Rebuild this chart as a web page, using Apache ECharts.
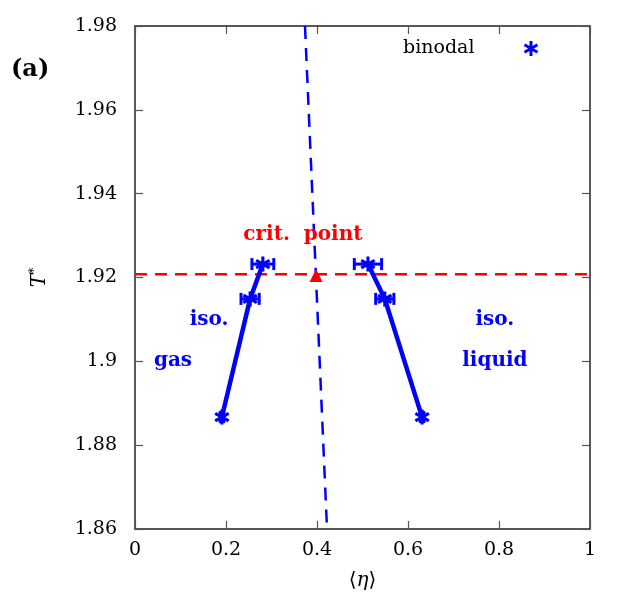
<html>
<head>
    <meta charset='utf-8'/>
    <title>binodal</title>
    <style>
        body { margin: 0; padding: 0; background: #fff; }
        #chart { width: 630px; height: 604px; }
    </style>
</head>
<body>
<div id='chart'></div>
<script src="https://cdn.jsdelivr.net/npm/echarts@6/dist/echarts.min.js"></script>
<script type="text/javascript">
    // binodal points: [eta, T, error in eta]
    var gasBranch = [
        [0.191, 1.8867, 0.004],
        [0.253, 1.9149, 0.020],
        [0.281, 1.9232, 0.024]
    ];
    var liquidBranch = [
        [0.631, 1.8867, 0.004],
        [0.549, 1.9149, 0.020],
        [0.512, 1.9232, 0.030]
    ];
    var critPoint = [[0.398, 1.9205]];
    var critLineT = [[0, 1.9208], [1, 1.9208]];
    var diameterLine = [[0.3736, 1.98], [0.422, 1.86]];
    var notes = [
        [0.369, 1.9301, 'crit.  point', '#ff0000'],
        [0.163, 1.9099, 'iso.', '#0000ff'],
        [0.0835, 1.9001, 'gas', '#0000ff'],
        [0.791, 1.9099, 'iso.', '#0000ff'],
        [0.791, 1.9001, 'liquid', '#0000ff']
    ];

    var FONT = 'DejaVu Serif';
    var BLUE = '#0000ff';
    var RED = '#ff0000';

    // six-armed asterisk as a filled path
    function asteriskPath() {
        var d = '';
        [90, 30, -30].forEach(function (a) {
            var r = a * Math.PI / 180, c = Math.cos(r), s = Math.sin(r);
            var L = 10, W = 2;
            var pts = [[-L, -W], [L, -W], [L, W], [-L, W]].map(function (p) {
                return [(p[0] * c - p[1] * s).toFixed(2), (p[0] * s + p[1] * c).toFixed(2)];
            });
            d += 'M' + pts[0].join(' ') + 'L' + pts[1].join(' ') + 'L' + pts[2].join(' ') + 'L' + pts[3].join(' ') + 'Z';
        });
        return 'path://' + d;
    }
    var STAR = asteriskPath();

    function errorBars(item, api) {
        var x = api.value(0), y = api.value(1), e = api.value(2);
        var p0 = api.coord([x - e, y]);
        var p1 = api.coord([x + e, y]);
        var cap = 6;
        var style = {stroke: BLUE, lineWidth: 3};
        return {
            type: 'group',
            children: [
                {type: 'line', shape: {x1: p0[0], y1: p0[1], x2: p1[0], y2: p1[1]}, style: style},
                {type: 'line', shape: {x1: p0[0], y1: p0[1] - cap, x2: p0[0], y2: p0[1] + cap}, style: style},
                {type: 'line', shape: {x1: p1[0], y1: p1[1] - cap, x2: p1[0], y2: p1[1] + cap}, style: style}
            ]
        };
    }

    var axisCommon = {
        axisLine: {show: true, onZero: false, lineStyle: {color: '#222', width: 1.5}},
        axisTick: {show: true, inside: true, length: 8, lineStyle: {color: '#555', width: 1.2}},
        splitLine: {show: false}
    };

    var chart = echarts.init(document.getElementById('chart'), null, {renderer: 'canvas'});
    var option = {
        backgroundColor: '#fff',
        animation: false,
        title: {
            text: '(a)', left: 6, top: 53,
            textStyle: {fontFamily: FONT, fontWeight: 'bold', fontSize: 24, color: '#000'}
        },
        legend: {
            left: 398, top: 34,
            align: 'right',
            itemWidth: 15, itemHeight: 15,
            data: [{name: 'binodal', icon: STAR}],
            textStyle: {fontFamily: FONT, fontSize: 19, color: '#000', padding: [0, 44, 0, 0]}
        },
        grid: {left: 135, right: 40, top: 26, bottom: 75},
        xAxis: [
            Object.assign({
                type: 'value', min: 0, max: 1, interval: 0.2, position: 'bottom',
                name: '{n|⟨}{i|η}{n|⟩}', nameLocation: 'middle', nameGap: 42,
                nameTextStyle: {
                    rich: {
                        n: {fontFamily: FONT, fontSize: 20, color: '#000'},
                        i: {fontFamily: FONT, fontSize: 20, fontStyle: 'italic', color: '#000'}
                    }
                },
                axisLabel: {
                    fontFamily: FONT, fontSize: 19, color: '#000', margin: 12,
                    formatter: function (v) { return String(+v.toFixed(2)); }
                }
            }, axisCommon),
            Object.assign({
                type: 'value', min: 0, max: 1, interval: 0.2, position: 'top',
                axisLabel: {show: false}
            }, axisCommon)
        ],
        yAxis: [
            Object.assign({
                type: 'value', min: 1.86, max: 1.98, interval: 0.02, position: 'left',
                name: '{i|T}{s|*}', nameLocation: 'middle', nameGap: 84, nameRotate: 90,
                nameTextStyle: {
                    rich: {
                        i: {fontFamily: FONT, fontSize: 20, fontStyle: 'italic', color: '#000'},
                        s: {fontFamily: FONT, fontSize: 12, color: '#000', padding: [0, 0, 10, 0]}
                    }
                },
                axisLabel: {
                    fontFamily: FONT, fontSize: 19, color: '#000', margin: 18,
                    formatter: function (v) { return String(+v.toFixed(2)); }
                }
            }, axisCommon),
            Object.assign({
                type: 'value', min: 1.86, max: 1.98, interval: 0.02, position: 'right',
                axisLabel: {show: false}
            }, axisCommon)
        ],
        series: [
            {
                name: 'diameter', type: 'line', data: diameterLine, symbol: 'none',
                lineStyle: {color: BLUE, width: 2.5, type: [13, 9]}, z: 2
            },
            {
                name: 'critT', type: 'line', data: critLineT, symbol: 'none',
                lineStyle: {color: RED, width: 2.5, type: [12, 8]}, z: 2
            },
            {
                name: 'gasErr', type: 'custom', renderItem: errorBars, data: gasBranch, z: 3
            },
            {
                name: 'liqErr', type: 'custom', renderItem: errorBars, data: liquidBranch, z: 3
            },
            {
                name: 'binodal', type: 'line', data: gasBranch, symbol: STAR, symbolSize: 15,
                itemStyle: {color: BLUE}, lineStyle: {color: BLUE, width: 4.5}, z: 4
            },
            {
                name: 'binodal', type: 'line', data: liquidBranch, symbol: STAR, symbolSize: 15,
                itemStyle: {color: BLUE}, lineStyle: {color: BLUE, width: 4.5}, z: 4
            },
            {
                name: 'crit', type: 'scatter', data: critPoint, symbol: 'triangle', symbolSize: 13,
                itemStyle: {color: RED, opacity: 1}, z: 5
            },
            {
                name: 'notes', type: 'scatter', symbolSize: 0, silent: true,
                itemStyle: {opacity: 1},
                data: notes.map(function (n) {
                    return {
                        value: [n[0], n[1]],
                        label: {
                            show: true, position: 'inside', formatter: n[2],
                            fontFamily: FONT, fontWeight: 'bold', fontSize: 20, color: n[3]
                        }
                    };
                }),
                z: 6
            }
        ]
    };
    chart.setOption(option);
</script>
</body>
</html>
